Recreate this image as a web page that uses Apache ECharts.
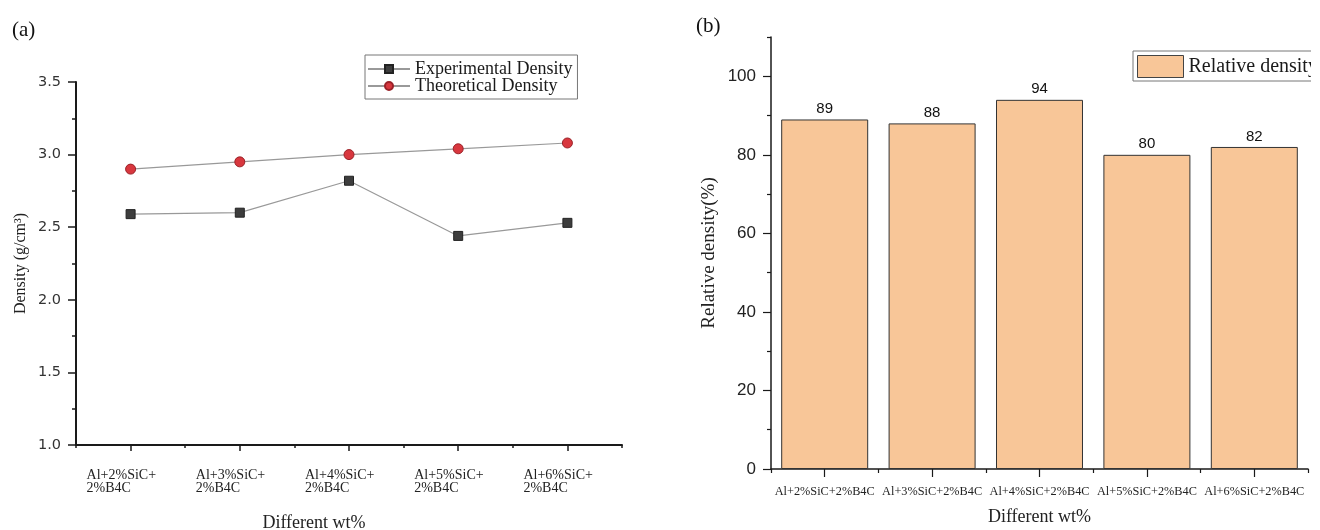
<!DOCTYPE html>
<html>
<head>
<meta charset="utf-8">
<script src="https://cdn.jsdelivr.net/npm/echarts@6/dist/echarts.min.js"></script>
<style>
  html, body { margin: 0; padding: 0; background: #fff; }
  #chart { width: 1320px; height: 530px; }
</style>
</head>
<body>
<div id="chart"></div>
<script>
// ---- data ----
const categories = ['Al+2%SiC+2%B4C', 'Al+3%SiC+2%B4C', 'Al+4%SiC+2%B4C', 'Al+5%SiC+2%B4C', 'Al+6%SiC+2%B4C'];
const experimentalDensity = [2.59, 2.60, 2.82, 2.44, 2.53];
const theoreticalDensity = [2.90, 2.95, 3.00, 3.04, 3.08];
const relativeDensity = [89, 88, 94, 80, 82];
const rightYMajorTicks = [0, 20, 40, 60, 80, 100];
const rightYMinorTicks = [10, 30, 50, 70, 90, 110];

const SERIF = 'Liberation Serif';
const SANS = 'Liberation Sans';
const axisColor = '#1a1a1a';

const chart = echarts.init(document.getElementById('chart'), null, { renderer: 'canvas' });

function splitLeftLabel(v) {
  const i = v.lastIndexOf('2%B4C');
  return '{l|' + v.slice(0, i) + '}\n{l|' + v.slice(i) + '}';
}

const option = {
  backgroundColor: '#ffffff',
  animation: false,
  title: [
    { text: '(a)', left: 7, top: 15, textStyle: { fontFamily: SERIF, fontSize: 21, fontWeight: 'normal', color: '#111' } },
    { text: '(b)', left: 691, top: 11, textStyle: { fontFamily: SERIF, fontSize: 21, fontWeight: 'normal', color: '#111' } }
  ],
  legend: [
    {
      data: ['Experimental Density', 'Theoretical Density'],
      orient: 'vertical',
      left: 365, top: 55,
      padding: [5, 5, 4, 2],
      itemWidth: 42, itemHeight: 10, itemGap: -1,
      borderColor: '#777', borderWidth: 1,
      textStyle: { fontFamily: SERIF, fontSize: 18, lineHeight: 15, color: '#1a1a1a' }
    },
    {
      data: ['Relative density'],
      left: 1133, top: 51,
      padding: [4, 10, 3, 4],
      itemWidth: 46, itemHeight: 22,
      icon: 'rect',
      borderColor: '#777', borderWidth: 1,
      itemStyle: { borderColor: '#444', borderWidth: 1 },
      textStyle: { fontFamily: SERIF, fontSize: 20, color: '#1a1a1a' }
    }
  ],
  graphic: [
    { type: 'rect', right: 0, top: 0, z: 1000, silent: true, shape: { width: 9, height: 530 }, style: { fill: '#ffffff' } }
  ],
  grid: [
    { left: 76, right: 698, top: 82, bottom: 85, containLabel: false, outerBoundsMode: 'none' },
    { left: 771, right: 12, top: 37, bottom: 61, containLabel: false, outerBoundsMode: 'none' }
  ],
  xAxis: [
    {
      type: 'category', gridIndex: 0, data: categories, position: 'bottom',
      name: 'Different wt%', nameLocation: 'middle', nameGap: 69,
      nameTextStyle: { fontFamily: SERIF, fontSize: 18, color: '#222', padding: [0, 70, 0, 0] },
      axisLine: { lineStyle: { color: axisColor, width: 2 } },
      axisTick: { show: true, interval: 0, alignWithLabel: true, length: 6, lineStyle: { color: axisColor, width: 1.5 } },
      axisLabel: {
        interval: 0, margin: 24, color: '#222',
        formatter: splitLeftLabel,
        rich: { l: { fontFamily: SERIF, fontSize: 14, lineHeight: 13, width: 88, align: 'left', color: '#222' } }
      },
      splitLine: { show: false }
    },
    {
      type: 'category', gridIndex: 0, data: categories, position: 'bottom', offset: 0,
      axisLine: { show: false },
      axisTick: { show: true, interval: 0, length: 3, lineStyle: { color: axisColor, width: 1.5 } },
      axisLabel: { show: false, interval: 0 },
      splitLine: { show: false }
    },
    {
      type: 'category', gridIndex: 1, data: categories, position: 'bottom',
      name: 'Different wt%', nameLocation: 'middle', nameGap: 39,
      nameTextStyle: { fontFamily: SERIF, fontSize: 18, color: '#222' },
      axisLine: { lineStyle: { color: axisColor, width: 1.5 } },
      axisTick: { show: true, interval: 0, alignWithLabel: true, length: 8, lineStyle: { color: axisColor, width: 1.2 } },
      axisLabel: { interval: 0, margin: 17, fontFamily: SERIF, fontSize: 12.3, color: '#222' },
      splitLine: { show: false }
    },
    {
      type: 'category', gridIndex: 1, data: categories, position: 'bottom', offset: 0,
      axisLine: { show: false },
      axisTick: { show: true, interval: 0, length: 4, lineStyle: { color: axisColor, width: 1.2 } },
      axisLabel: { show: false, interval: 0 },
      splitLine: { show: false }
    }
  ],
  yAxis: [
    {
      type: 'value', gridIndex: 0, min: 1.0, max: 3.5, interval: 0.5,
      name: 'Density (g/cm³)', nameLocation: 'middle', nameGap: 47,
      nameTextStyle: { fontFamily: SERIF, fontSize: 16, color: '#222' },
      axisLine: { show: true, lineStyle: { color: axisColor, width: 2 } },
      axisTick: { show: true, length: 8, lineStyle: { color: axisColor, width: 1.5 } },
      minorTick: { show: true, splitNumber: 2, length: 4, lineStyle: { color: axisColor, width: 1.5 } },
      axisLabel: { margin: 15, fontFamily: 'DejaVu Sans', fontSize: 14.5, color: '#333', formatter: v => v.toFixed(1) },
      splitLine: { show: false }
    },
    {
      type: 'value', gridIndex: 1, min: 0, max: 110, position: 'left',
      name: 'Relative density(%)', nameLocation: 'middle', nameGap: 52,
      nameTextStyle: { fontFamily: SERIF, fontSize: 19, color: '#222' },
      axisLine: { show: true, lineStyle: { color: axisColor, width: 1.5 } },
      axisTick: { show: true, length: 8, customValues: rightYMajorTicks, lineStyle: { color: axisColor, width: 1.2 } },
      axisLabel: { margin: 15, customValues: rightYMajorTicks, fontFamily: SANS, fontSize: 17, color: '#222' },
      splitLine: { show: false }
    },
    {
      type: 'value', gridIndex: 1, min: 0, max: 110, position: 'left', offset: 0,
      axisLine: { show: false },
      axisTick: { show: true, length: 4, customValues: rightYMinorTicks, lineStyle: { color: axisColor, width: 1.2 } },
      axisLabel: { show: false, customValues: rightYMinorTicks },
      splitLine: { show: false }
    }
  ],
  series: [
    {
      name: 'Experimental Density', type: 'line', xAxisIndex: 0, yAxisIndex: 0,
      data: experimentalDensity,
      symbol: 'rect', symbolSize: 9,
      lineStyle: { color: '#999', width: 1.2 },
      itemStyle: { color: '#3d3d3d', borderColor: '#222', borderWidth: 1 },
      z: 3
    },
    {
      name: 'Theoretical Density', type: 'line', xAxisIndex: 0, yAxisIndex: 0,
      data: theoreticalDensity,
      symbol: 'circle', symbolSize: 10,
      lineStyle: { color: '#999', width: 1.2 },
      itemStyle: { color: '#d8373e', borderColor: '#9a2228', borderWidth: 1 },
      z: 3
    },
    {
      name: 'Relative density', type: 'bar', xAxisIndex: 2, yAxisIndex: 1,
      data: relativeDensity,
      barCategoryGap: '19%',
      itemStyle: { color: '#f8c698', borderColor: '#333', borderWidth: 1 },
      label: { show: true, position: 'top', distance: 3, fontFamily: SANS, fontSize: 15, color: '#111' }
    }
  ]
};

chart.setOption(option);
</script>
</body>
</html>
